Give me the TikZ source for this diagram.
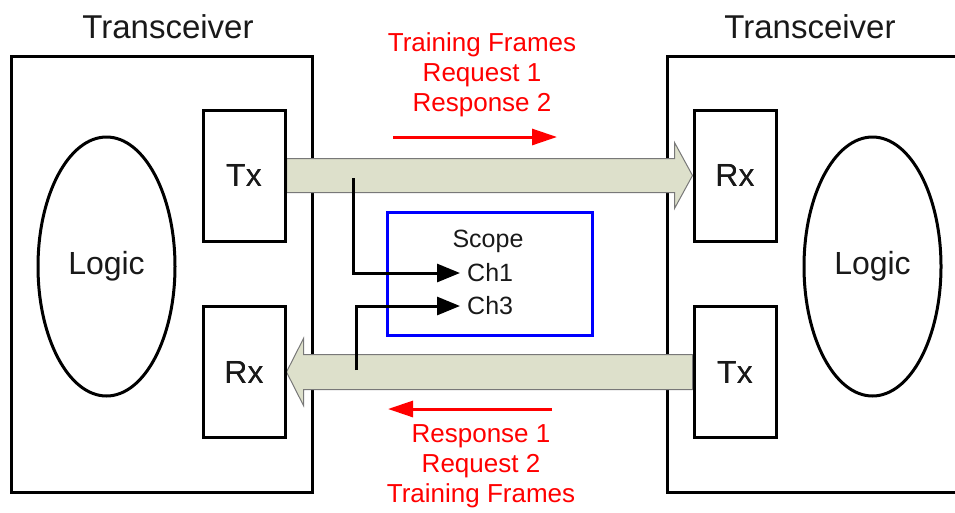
\documentclass[tikz,border=0pt]{standalone}
\usepackage{fontspec}
\setmainfont{Liberation Sans}
\usetikzlibrary{arrows.meta,calc,shapes.geometric}
\definecolor{arrowfill}{RGB}{221,224,203}
\definecolor{arrowedge}{RGB}{120,120,120}
\definecolor{txtgray}{RGB}{25,25,25}
\begin{document}
\begin{tikzpicture}[x=1pt,y=-1pt,
  bigbox/.style={draw=black,line width=3pt,minimum height=436pt,inner sep=0pt},
  smallbox/.style={draw=black,line width=3pt,minimum width=82pt,minimum height=131pt,inner sep=0pt,
    text=txtgray,font=\fontsize{32}{38}\selectfont},
  logicell/.style={draw=black,ellipse,line width=3pt,minimum width=137pt,minimum height=259pt,inner sep=0pt,
    text=txtgray,font=\fontsize{32}{38}\selectfont},
  title/.style={text=txtgray,font=\fontsize{33}{40}\selectfont,inner sep=0pt},
  fat/.style={fill=arrowfill,draw=arrowedge,line width=1pt,line join=miter},
  redtxt/.style={text=red,align=center,font=\fontsize{26}{30}\selectfont,inner sep=0pt},
  redarrow/.style={draw=red,line width=3pt,-{Triangle[length=25pt,width=16pt]}},
  probe/.style={draw=black,line width=3pt,-{Triangle[length=23pt,width=18pt]}},
  scopebox/.style={draw=blue,line width=3pt,minimum width=205pt,minimum height=123pt,inner sep=0pt},
  chlbl/.style={text=txtgray,font=\fontsize{25}{30}\selectfont,inner ysep=0pt,inner xsep=7pt}
]
\useasboundingbox (0,0) rectangle (955,512);
\clip (0,0) rectangle (955,512);

% titles
\node[title] (tL) at (168,27) {Transceiver};
\node[title] (tR) at (810,27) {Transceiver};

% transceiver boxes
\node[bigbox,minimum width=301pt] (boxL) at (161.5,274) {};
\node[bigbox,minimum width=333pt] (boxR) at (833.5,274) {};

% logic
\node[logicell] (logL) at (106.5,266.5) {Logic};
\node[logicell] (logR) at (872.5,266.5) {Logic};

% small box nodes (positions used for arrows)
\path (244,175.5) node[smallbox] (txL) {Tx};
\path (244,372) node[smallbox] (rxL) {Rx};
\path (735,175.5) node[smallbox] (rxR) {Rx};
\path (735,372) node[smallbox] (txR) {Tx};

% fat arrows
\draw[fat] ($(txL.east)+(0,-17)$) -- ($(rxR.west)+(-18,-17)$) -- ($(rxR.west)+(-18,-33)$)
  -- (rxR.west) -- ($(rxR.west)+(-18,33)$) -- ($(rxR.west)+(-18,17)$) -- ($(txL.east)+(0,17)$) -- cycle;
\draw[fat] ($(txR.west)+(0,-17.5)$) -- ($(rxL.east)+(17,-17.5)$) -- ($(rxL.east)+(17,-33.5)$)
  -- (rxL.east) -- ($(rxL.east)+(17,33.5)$) -- ($(rxL.east)+(17,17.5)$) -- ($(txR.west)+(0,17.5)$) -- cycle;

% redraw small boxes on top
\node[smallbox] at (txL) {Tx};
\node[smallbox] at (rxL) {Rx};
\node[smallbox] at (rxR) {Rx};
\node[smallbox] at (txR) {Tx};

% scope
\node[scopebox] (scope) at (489.5,273.5) {};
\node[text=txtgray,font=\fontsize{25}{30}\selectfont,inner sep=0pt] (scopelbl) at (488,241) {Scope};
\node[chlbl,anchor=west] (ch1) at (460,273) {Ch1};
\node[chlbl,anchor=west] (ch3) at (460,306) {Ch3};

% probes
\coordinate (p1) at (353,178);
\coordinate (p3) at (356,370);
\draw[probe] (p1) |- (ch1.west);
\draw[probe] (p3) |- (ch3.west);

% red labels and arrows
\node[redtxt] (topTxt) at (482,75) {Training Frames\\Request 1\\Response 2};
\node[redtxt] (botTxt) at (481,466) {Response 1\\Request 2\\Training Frames};
\coordinate (ra1) at (393,137);
\coordinate (ra2) at (557,137);
\coordinate (rb1) at (552,409);
\coordinate (rb2) at (388,409);
\draw[redarrow] (ra1) -- (ra2);
\draw[redarrow] (rb1) -- (rb2);
\end{tikzpicture}
\end{document}
